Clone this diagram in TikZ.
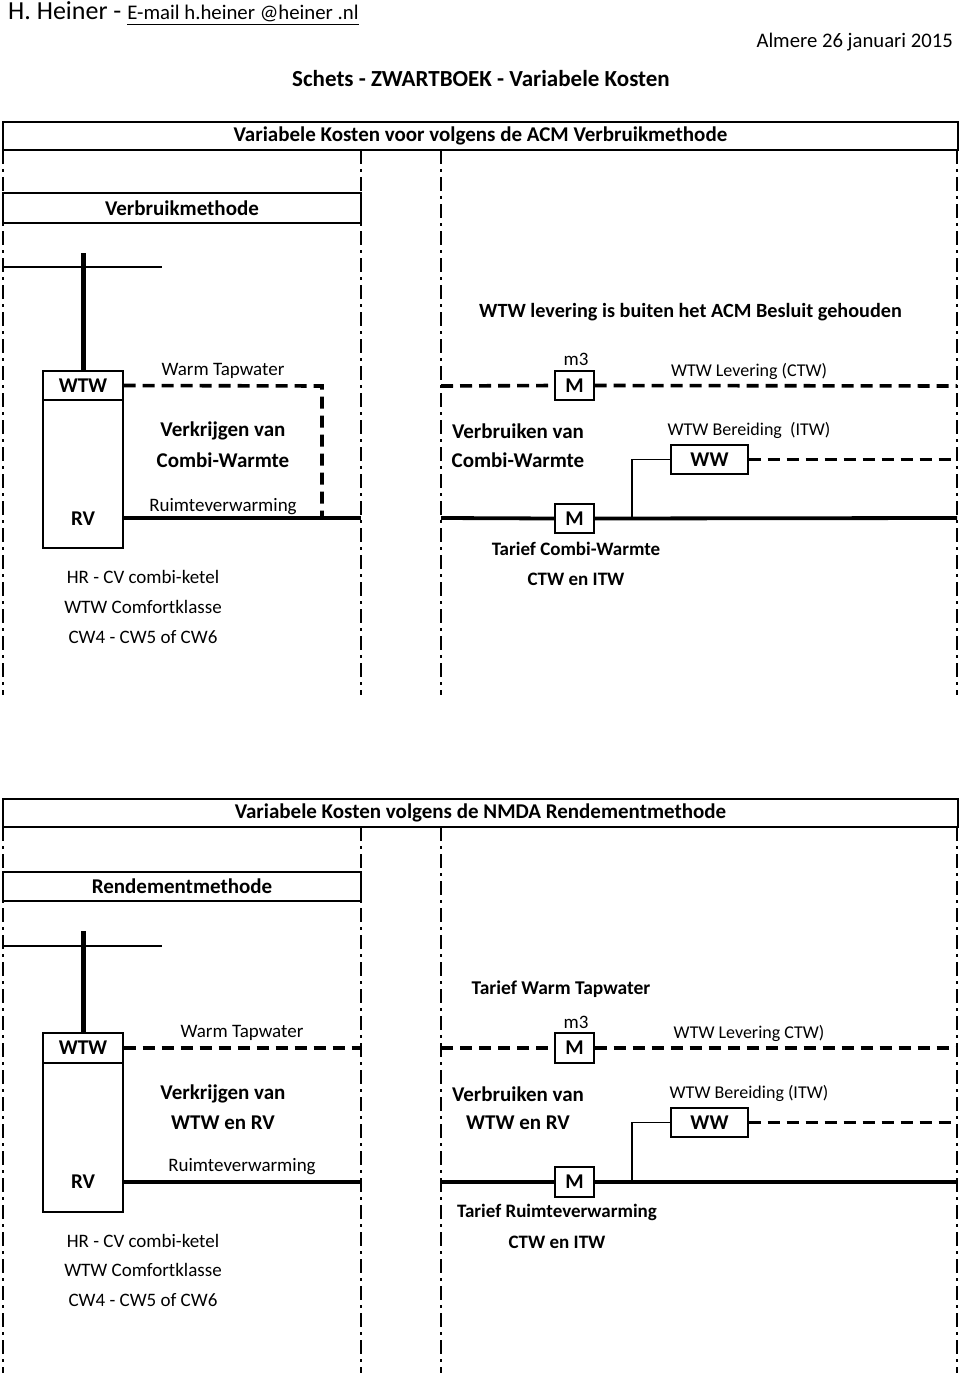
\documentclass[tikz,border=0pt]{standalone}
\usepackage{fontspec}
\setmainfont{Carlito}
\begin{document}
\begin{tikzpicture}[x=1pt,y=-1pt,
  lbl/.style={font=\fontsize{19}{22}\selectfont, inner sep=0pt},
  slbl/.style={font=\fontsize{18}{21}\selectfont, inner sep=0pt},
  blbl/.style={font=\bfseries\fontsize{21}{24}\selectfont, inner sep=0pt},
  tlbl/.style={font=\bfseries\fontsize{19}{22}\selectfont, inner sep=0pt},
  vdash/.style={line width=1.4pt, dash pattern=on 14pt off 5pt on 3pt off 5pt},
  pipedash/.style={line width=3.6pt, dash pattern=on 12pt off 7pt},
  pipe/.style={line width=3.8pt},
  riser/.style={line width=5pt},
  thin/.style={line width=1.3pt},
  boxed/.style={draw, line width=1.3pt, inner sep=0pt, font=\bfseries\fontsize{21}{24}\selectfont},
  banner/.style={draw, line width=1.5pt, inner sep=0pt, minimum width=955pt, minimum height=28pt, font=\bfseries\fontsize{21}{24}\selectfont}
]
\useasboundingbox (0,0) rectangle (960,1375);
\fill[white] (0,0) rectangle (960,1375);

% header
\node[anchor=base west, inner sep=0pt] (hdr) at (8,20) {{\fontsize{26}{30}\selectfont H. Heiner - }{\fontsize{20.8}{24}\selectfont\underline{E-mail h.heiner @heiner .nl}}};
\node[anchor=base east, inner sep=0pt, font=\fontsize{20.7}{24}\selectfont] (date) at (953,48) {Almere 26 januari 2015};
\node[anchor=base, inner sep=0pt, font=\bfseries\fontsize{23}{27}\selectfont] (title) at (481,87) {Schets - ZWARTBOEK - Variabele Kosten};

% ================= TOP =================
\node[banner] (ban1) at (480.5,136) {Variabele Kosten voor volgens de ACM Verbruikmethode};
\coordinate (v1a) at (3,150);   \coordinate (v1b) at (3,695);
\coordinate (v2a) at (361,150); \coordinate (v2b) at (361,695);
\coordinate (v3a) at (441,150); \coordinate (v3b) at (441,695);
\coordinate (v4a) at (957,150); \coordinate (v4b) at (957,695);
\draw[vdash] (v1a) -- (v1b);
\draw[vdash] (v2a) -- (v2b);
\draw[vdash] (v3a) -- (v3b);
\draw[vdash] (v4a) -- (v4b);
\node[boxed, minimum width=358pt, minimum height=30pt] (meth1) at (182,208) {Verbruikmethode};

\coordinate (t1a) at (3,267); \coordinate (t1b) at (162,267);
\draw[thin] (t1a) -- (t1b);
\node[boxed, minimum width=80pt, minimum height=29pt] (wtw1) at (83,385.5) {WTW};
\node[boxed, minimum width=80pt, minimum height=148pt] (rvbox1) at (83,474) {};
\node[blbl] (rv1) at (83,519) {RV};
\coordinate (r1) at (83,253);
\draw[riser] (r1) -- (wtw1.north);

\node[lbl] (wt1) at (223,371) {Warm Tapwater};
\coordinate (d1a) at (322,386); \coordinate (d1b) at (322,518);
\draw[pipedash] (wtw1.east) -- (d1a) -- (d1b);
\node[blbl] (vk1) at (223,431) {Verkrijgen van};
\node[blbl] (cw1) at (223,460) {Combi-Warmte};
\node[lbl] (ru1) at (223,507) {Ruimteverwarming};
\coordinate (p1a) at (123,518); \coordinate (p1b) at (361,518);
\draw[pipe] (p1a) -- (p1b);
\node[lbl] (hr1) at (143,577) {HR - CV combi-ketel};
\node[lbl] (cf1) at (143,607) {WTW Comfortklasse};
\node[lbl] (cw4a) at (143,637) {CW4 - CW5 of CW6};

\node[blbl, font=\bfseries\fontsize{20.2}{24}\selectfont] (acm) at (690.5,312) {WTW levering is buiten het ACM Besluit gehouden};
\node[lbl] (m3a) at (576,359) {m3};
\node[boxed, minimum width=39pt, minimum height=29pt] (ma) at (574.5,385.5) {M};
\coordinate (da1) at (441,386); \coordinate (da2) at (957,386);
\draw[pipedash] (da1) -- (ma.west);
\draw[pipedash] (ma.east) -- (da2);
\node[slbl] (lev1) at (749,371) {WTW Levering (CTW)};
\node[blbl] (vb1) at (518,431) {Verbruiken van};
\node[blbl] (cw2) at (518,460) {Combi-Warmte};
\node[slbl] (ber1) at (749,430) {WTW Bereiding\ \ (ITW)};
\node[boxed, minimum width=77pt, minimum height=29pt] (ww1) at (709.5,459.5) {WW};
\coordinate (j1) at (632,518);
\draw[thin] (ww1.west) -| (j1);
\coordinate (dw1) at (957,459.5);
\draw[pipedash] (ww1.east) -- (dw1);
\node[boxed, minimum width=39pt, minimum height=29pt, fill=white] (mb) at (574.5,518.5) {M};
\coordinate (pb1) at (441,518); \coordinate (pb2) at (957,518);
\draw[pipe] (pb1) -- (mb.west);
\draw[pipe] (mb.east) -- (pb2);
\node[tlbl] (tcw) at (576,549) {Tarief Combi-Warmte};
\node[tlbl] (ci1) at (576,579) {CTW en ITW};

% ================= BOTTOM =================
\node[banner] (ban2) at (480.5,813) {Variabele Kosten volgens de NMDA Rendementmethode};
\coordinate (w1a) at (3,827);   \coordinate (w1b) at (3,1373);
\coordinate (w2a) at (361,827); \coordinate (w2b) at (361,1373);
\coordinate (w3a) at (441,827); \coordinate (w3b) at (441,1373);
\coordinate (w4a) at (957,827); \coordinate (w4b) at (957,1373);
\draw[vdash] (w1a) -- (w1b);
\draw[vdash] (w2a) -- (w2b);
\draw[vdash] (w3a) -- (w3b);
\draw[vdash] (w4a) -- (w4b);
\node[boxed, minimum width=358pt, minimum height=29pt] (meth2) at (182,886.5) {Rendementmethode};

\coordinate (t2a) at (3,946); \coordinate (t2b) at (162,946);
\draw[thin] (t2a) -- (t2b);
\node[boxed, minimum width=80pt, minimum height=30pt] (wtw2) at (83,1048) {WTW};
\node[boxed, minimum width=80pt, minimum height=149pt] (rvbox2) at (83,1137.5) {};
\node[blbl] (rv2) at (83,1182) {RV};
\coordinate (r2) at (83,931);
\draw[riser] (r2) -- (wtw2.north);

\node[tlbl, font=\bfseries\fontsize{19.5}{23}\selectfont] (twt) at (561,989) {Tarief Warm Tapwater};
\node[lbl] (wt2) at (242,1033) {Warm Tapwater};
\coordinate (d2a) at (361,1048);
\draw[pipedash] (wtw2.east) -- (d2a);
\node[blbl] (vk2) at (223,1094) {Verkrijgen van};
\node[blbl] (er1) at (223,1123) {WTW en RV};
\node[lbl] (ru2) at (242,1167) {Ruimteverwarming};
\coordinate (p2a) at (123,1182); \coordinate (p2b) at (361,1182);
\draw[pipe] (p2a) -- (p2b);
\node[lbl] (hr2) at (143,1241) {HR - CV combi-ketel};
\node[lbl] (cf2) at (143,1270) {WTW Comfortklasse};
\node[lbl] (cw4b) at (143,1300) {CW4 - CW5 of CW6};

\node[lbl] (m3b) at (576,1022) {m3};
\node[boxed, minimum width=39pt, minimum height=30pt] (mc) at (574.5,1048) {M};
\coordinate (dc1) at (441,1048); \coordinate (dc2) at (957,1048);
\draw[pipedash] (dc1) -- (mc.west);
\draw[pipedash] (mc.east) -- (dc2);
\node[slbl] (lev2) at (749,1033) {WTW Levering CTW)};
\node[blbl] (vb2) at (518,1094) {Verbruiken van};
\node[blbl] (er2) at (518,1123) {WTW en RV};
\node[slbl] (ber2) at (749,1093) {WTW Bereiding (ITW)};
\node[boxed, minimum width=77pt, minimum height=29pt] (ww2) at (709.5,1122.5) {WW};
\coordinate (j2) at (632,1182);
\draw[thin] (ww2.west) -| (j2);
\coordinate (dw2) at (957,1122.5);
\draw[pipedash] (ww2.east) -- (dw2);
\node[boxed, minimum width=39pt, minimum height=30pt, fill=white] (md) at (574.5,1182) {M};
\coordinate (pd1) at (441,1182); \coordinate (pd2) at (957,1182);
\draw[pipe] (pd1) -- (md.west);
\draw[pipe] (md.east) -- (pd2);
\node[tlbl] (trv) at (557,1212) {Tarief Ruimteverwarming};
\node[tlbl] (ci2) at (557,1242) {CTW en ITW};
\end{tikzpicture}
\end{document}
